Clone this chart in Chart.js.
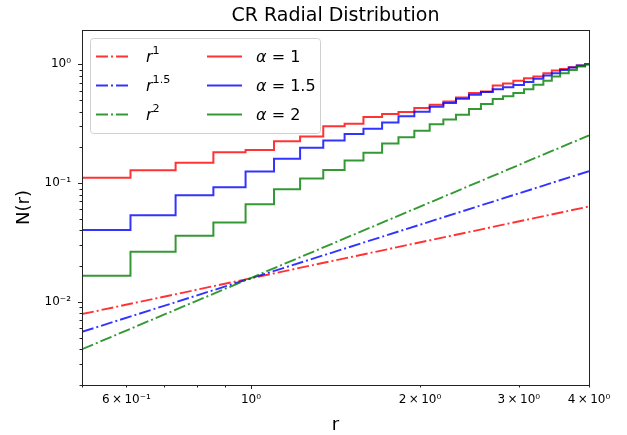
<!DOCTYPE html>
<html>
<head>
<meta charset="utf-8">
<script src="https://cdn.jsdelivr.net/npm/chart.js@4"></script>
<style>
  html, body { margin: 0; padding: 0; background: #fff; }
</style>
</head>
<body>
<canvas id="c" width="627" height="435"></canvas>
<script>
// r values where the cumulative curves step up (first = start, last = end of axis)
const rEdges = [0.5, 0.610, 0.734, 0.857, 0.978, 1.099, 1.223, 1.345, 1.468, 1.586, 1.712, 1.831,
  1.954, 2.081, 2.201, 2.318, 2.445, 2.568, 2.695, 2.811, 2.933, 3.064, 3.184, 3.317, 3.434,
  3.553, 3.681, 3.805, 3.936, 4.0]

// N(r) level after each step
const alpha1 = [0.111, 0.128, 0.148, 0.182, 0.190, 0.225, 0.247, 0.300, 0.316, 0.360, 0.381, 0.396,
  0.428, 0.456, 0.486, 0.525, 0.572, 0.590, 0.662, 0.688, 0.725, 0.763, 0.787, 0.841, 0.884,
  0.913, 0.944, 0.973, 1.0]
const alpha15 = [0.0402, 0.0536, 0.0789, 0.0924, 0.125, 0.160, 0.198, 0.228, 0.259, 0.286, 0.324, 0.364,
  0.399, 0.439, 0.471, 0.512, 0.553, 0.583, 0.615, 0.639, 0.667, 0.707, 0.753, 0.803, 0.841,
  0.896, 0.937, 0.973, 1.0]
const alpha2 = [0.0166, 0.0264, 0.0360, 0.0466, 0.0663, 0.0886, 0.109, 0.129, 0.155, 0.180, 0.215, 0.243,
  0.276, 0.312, 0.342, 0.376, 0.420, 0.462, 0.509, 0.537, 0.572, 0.617, 0.671, 0.725, 0.787,
  0.841, 0.896, 0.955, 1.0]

// power-law reference lines, end points
const rLine = [0.5, 4.0]
const pow1 = [0.0079, 0.0635]
const pow15 = [0.0056, 0.126]
const pow2 = [0.0040, 0.252]

// axis ticks
const xTickValues = [0.5, 0.6, 0.7, 0.8, 0.9, 1, 2, 3, 4]
const xTickLabels = {0.6: '6\u2009×\u200910⁻¹', 1: '10⁰', 2: '2\u2009×\u200910⁰', 3: '3\u2009×\u200910⁰', 4: '4\u2009×\u200910⁰'}
const xMajor = [1]
const yMajor = [0.01, 0.1, 1]
const yTickLabels = {0.01: '10⁻²', 0.1: '10⁻¹', 1: '10⁰'}
const yMin = 0.002, yMax = 1.94

const RED = 'rgba(255,0,0,0.8)', BLUE = 'rgba(0,0,255,0.8)', GREEN = 'rgba(0,128,0,0.8)'
const DASHDOT = [12, 3, 2, 3]

const yTickValues = []
;[0.001, 0.01, 0.1, 1].forEach(d => {
  for (let m = 1; m <= 9; m++) {
    const v = +(m * d).toPrecision(3)
    if (v >= yMin && v <= yMax) yTickValues.push(v)
  }
})

const stepData = levels => rEdges.map((r, i) => ({x: r, y: levels[Math.min(i, levels.length - 1)]}))
const lineData = vals => rLine.map((r, i) => ({x: r, y: vals[i]}))

const stepDs = (label, levels, color, math) => ({
  label, math, data: stepData(levels), borderColor: color, borderWidth: 2,
  stepped: 'before', pointRadius: 0, fill: false
})
const powDs = (label, vals, color, math) => ({
  label, math, data: lineData(vals), borderColor: color, borderWidth: 1.9,
  borderDash: DASHDOT, pointRadius: 0, fill: false
})

// first dataset is drawn on top
const datasets = [
  stepDs('α = 2', alpha2, GREEN, [{t: 'α', it: true}, {t: ' = 2'}]),
  stepDs('α = 1.5', alpha15, BLUE, [{t: 'α', it: true}, {t: ' = 1.5'}]),
  stepDs('α = 1', alpha1, RED, [{t: 'α', it: true}, {t: ' = 1'}]),
  powDs('r²', pow2, GREEN, [{t: 'r', it: true}, {t: '2', sup: true}]),
  powDs('r¹·⁵', pow15, BLUE, [{t: 'r', it: true}, {t: '1.5', sup: true}]),
  powDs('r¹', pow1, RED, [{t: 'r', it: true}, {t: '1', sup: true}]),
]
const legendColumns = [['r¹', 'r¹·⁵', 'r²'], ['α = 1', 'α = 1.5', 'α = 2']]

const FONT = 'DejaVu Sans'
Chart.defaults.font.family = FONT
Chart.defaults.color = '#000'

function drawMath(ctx, x, y, parts, size) {
  parts.forEach(p => {
    const fs = p.sup ? size * 0.7 : size
    ctx.font = (p.it ? 'italic ' : '') + fs + 'px ' + FONT
    ctx.fillText(p.t, x, p.sup ? y - size * 0.42 : y)
    x += ctx.measureText(p.t).width
  })
}

const framePlugin = {
  id: 'mplFrame',
  afterDraw(chart) {
    const {ctx, chartArea: a, scales: {x, y}} = chart
    ctx.save()
    ctx.strokeStyle = '#222'
    ctx.lineWidth = 1
    ctx.strokeRect(Math.round(a.left) + 0.5, Math.round(a.top) + 0.5,
      Math.round(a.right - a.left), Math.round(a.bottom - a.top))
    ctx.beginPath()
    xTickValues.forEach(v => {
      const px = Math.round(x.getPixelForValue(v)) + 0.5
      const len = xMajor.includes(v) ? 4 : 2.5
      ctx.moveTo(px, a.bottom)
      ctx.lineTo(px, a.bottom + len)
    })
    yTickValues.forEach(v => {
      const py = Math.round(y.getPixelForValue(v)) + 0.5
      const len = yMajor.includes(v) ? 4 : 2.5
      ctx.moveTo(a.left, py)
      ctx.lineTo(a.left - len, py)
    })
    ctx.stroke()

    // titles
    ctx.fillStyle = '#000'
    ctx.textAlign = 'center'
    ctx.textBaseline = 'middle'
    ctx.font = '19px ' + FONT
    ctx.fillText('CR Radial Distribution', (a.left + a.right) / 2, 16)
    ctx.font = '18px ' + FONT
    ctx.fillText('r', (a.left + a.right) / 2, 425)
    ctx.save()
    ctx.translate(24, (a.top + a.bottom) / 2)
    ctx.rotate(-Math.PI / 2)
    ctx.fillText('N(r)', 0, 0)
    ctx.restore()
    ctx.restore()
  }
}

const legendPlugin = {
  id: 'mplLegend',
  afterDatasetsDraw(chart) {
    const {ctx, chartArea: a} = chart
    const bx = a.left + 8, by = a.top + 8, bw = 230, bh = 95
    ctx.save()
    ctx.beginPath()
    ctx.roundRect(bx + 0.5, by + 0.5, bw, bh, 3)
    ctx.fillStyle = 'rgba(255,255,255,0.8)'
    ctx.fill()
    ctx.strokeStyle = '#d0d0d0'
    ctx.lineWidth = 1
    ctx.stroke()
    const colX = [[bx + 6, bx + 39, bx + 56], [bx + 117, bx + 152, bx + 166]]
    ctx.textAlign = 'left'
    ctx.textBaseline = 'middle'
    legendColumns.forEach((col, ci) => {
      col.forEach((label, ri) => {
        const ds = chart.data.datasets.find(d => d.label === label)
        const ry = by + 18.5 + ri * 29
        ctx.beginPath()
        ctx.strokeStyle = ds.borderColor
        ctx.lineWidth = ds.borderWidth
        ctx.setLineDash(ds.borderDash || [])
        ctx.moveTo(colX[ci][0], ry)
        ctx.lineTo(colX[ci][1], ry)
        ctx.stroke()
        ctx.setLineDash([])
        ctx.fillStyle = '#000'
        drawMath(ctx, colX[ci][2], ry + 1, ds.math, 16)
      })
    })
    ctx.restore()
  }
}

new Chart(document.getElementById('c'), {
  type: 'line',
  data: {datasets},
  options: {
    responsive: false,
    animation: false,
    devicePixelRatio: 1,
    layout: {padding: {left: 0, right: 38, top: 30, bottom: 0}},
    plugins: {legend: {display: false}, tooltip: {enabled: false}, title: {display: false}},
    scales: {
      x: {
        type: 'logarithmic', min: 0.5, max: 4,
        grid: {display: false, drawTicks: false},
        border: {display: false},
        afterBuildTicks: axis => { axis.ticks = xTickValues.map(v => ({value: v})) },
        afterFit: axis => { axis.height = 50 },
        ticks: {
          autoSkip: false, maxRotation: 0, padding: 8,
          font: {size: 12},
          callback: v => xTickLabels[v] || ''
        }
      },
      y: {
        type: 'logarithmic', min: yMin, max: yMax,
        grid: {display: false, drawTicks: false},
        border: {display: false},
        afterBuildTicks: axis => { axis.ticks = yMajor.map(v => ({value: v})) },
        afterFit: axis => { axis.width = 82 },
        ticks: {
          autoSkip: false, padding: 11,
          font: {size: 12},
          callback: v => yTickLabels[v] || ''
        }
      }
    }
  },
  plugins: [legendPlugin, framePlugin]
})
</script>
</body>
</html>
